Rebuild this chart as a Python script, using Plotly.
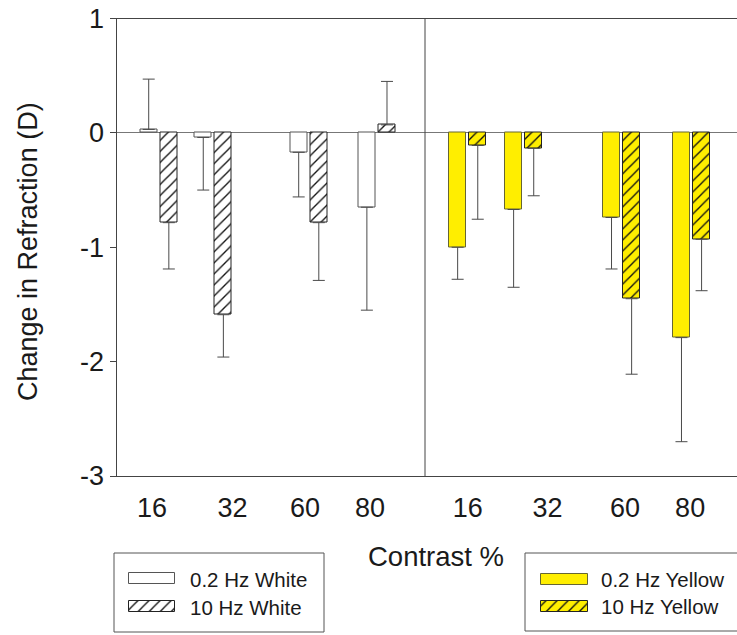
import plotly.graph_objects as go

W, H = 737, 635

# ---------------- data ----------------
contrast = [16, 32, 60, 80]
tick_labels = ["16", "32", "60", "80"]
y_ticks = [-3, -2, -1, 0, 1]
y_tick_labels = ["-3", "-2", "-1", "0", "1"]

white_02_mean = [0.03, -0.04, -0.17, -0.65]
white_02_err = [0.44, 0.46, 0.39, 0.90]
white_10_mean = [-0.785, -1.59, -0.785, 0.07]
white_10_err = [0.405, 0.37, 0.505, 0.38]
yellow_02_mean = [-1.00, -0.67, -0.74, -1.79]
yellow_02_err = [0.28, 0.68, 0.45, 0.91]
yellow_10_mean = [-0.11, -0.135, -1.45, -0.93]
yellow_10_err = [0.645, 0.415, 0.66, 0.45]

series_names = ["0.2 Hz White", "10 Hz White", "0.2 Hz Yellow", "10 Hz Yellow"]

# ---------------- style / layout constants ----------------
FONT = "Liberation Sans, Arial, sans-serif"
TXT = "#1a1a1a"
AX = "#444444"
YELLOW = "#FFEE00"
LEFT_TICK_POS = [14.0, 37.6, 58.9, 78.0]
RIGHT_TICK_POS = [16.0, 38.8, 61.0, 79.6]


def px(p):
    return p / W


def py(p):
    return 1 - p / H


def up_down(means, errs):
    up = [e if m >= 0 else 0 for m, e in zip(means, errs)]
    dn = [e if m < 0 else 0 for m, e in zip(means, errs)]
    return up, dn


def hatch(bg):
    return dict(shape="/", fgcolor="#111111", bgcolor=bg, size=7.8,
                solidity=0.17, fillmode="replace")


def bar(xs, means, errs, name, xaxis, color, line_color, pattern, offset, width):
    up, dn = up_down(means, errs)
    marker = dict(color=color, line=dict(color=line_color, width=1))
    if pattern is not None:
        marker["pattern"] = pattern
    return go.Bar(
        x=xs, y=means, name=name, xaxis=xaxis, yaxis="y",
        offset=offset, width=width, marker=marker, showlegend=False,
        error_y=dict(type="data", symmetric=False, array=up, arrayminus=dn,
                     color="#4a4a4a", thickness=1, width=6),
    )


fig = go.Figure()
fig.add_trace(bar(contrast, white_02_mean, white_02_err, series_names[0], "x",
                  "white", "#555555", None, -5.45, 5.0))
fig.add_trace(bar(contrast, white_10_mean, white_10_err, series_names[1], "x",
                  "white", "#222222", hatch("white"), 0.45, 5.0))
fig.add_trace(bar(contrast, yellow_02_mean, yellow_02_err, series_names[2], "x2",
                  YELLOW, "#666633", None, -5.3, 4.85))
fig.add_trace(bar(contrast, yellow_10_mean, yellow_10_err, series_names[3], "x2",
                  YELLOW, "#222222", hatch(YELLOW), 0.45, 4.85))

# legend swatches drawn on an auxiliary (hidden) pixel axis
legend_items = [
    (series_names[0], "white", "#555555", None, 129, 175, 579, 188),
    (series_names[1], "white", "#222222", hatch("white"), 129, 175, 607, 188),
    (series_names[2], YELLOW, "#666633", None, 541, 588, 579, 599),
    (series_names[3], YELLOW, "#222222", hatch(YELLOW), 541, 588, 606, 599),
]
annotations = []
for name, col, lc, pat, x0, x1, yc, tx in legend_items:
    marker = dict(color=col, line=dict(color=lc, width=1))
    if pat is not None:
        marker["pattern"] = pat
    fig.add_trace(go.Bar(orientation="h", x=[x1 - x0], base=[x0], y=[yc], width=11,
                         xaxis="x3", yaxis="y3", marker=marker, showlegend=False,
                         hoverinfo="skip"))
    annotations.append(dict(text=name, x=px(tx), y=py(yc), xref="paper", yref="paper",
                            xanchor="left", yanchor="middle", showarrow=False,
                            font=dict(family=FONT, size=20.5, color=TXT)))

annotations.append(dict(text="Change in Refraction (D)", textangle=-90,
                        x=px(28), y=py(252), xref="paper", yref="paper",
                        xanchor="center", yanchor="middle", showarrow=False,
                        font=dict(family=FONT, size=27, color=TXT)))
annotations.append(dict(text="Contrast %", x=px(436), y=py(556), xref="paper",
                        yref="paper", xanchor="center", yanchor="middle",
                        showarrow=False, font=dict(family=FONT, size=27.5, color=TXT)))

shapes = [
    dict(type="line", xref="paper", yref="paper", x0=px(425), x1=px(425),
         y0=py(476), y1=py(18.5), line=dict(color=AX, width=1)),
    dict(type="rect", xref="paper", yref="paper", x0=px(114), x1=px(324),
         y0=py(553), y1=py(632), line=dict(color="#555555", width=1)),
    dict(type="rect", xref="paper", yref="paper", x0=px(525), x1=px(760),
         y0=py(553), y1=py(631), line=dict(color="#555555", width=1)),
]

xcommon = dict(showline=True, linecolor=AX, linewidth=1, mirror=True, ticks="",
               showgrid=False, zeroline=False, anchor="y",
               tickfont=dict(family=FONT, size=27, color=TXT),
               ticklabelstandoff=8, ticktext=tick_labels, tickmode="array")

fig.update_layout(
    template="none",
    width=W, height=H,
    margin=dict(l=0, r=0, t=0, b=0),
    paper_bgcolor="white", plot_bgcolor="white",
    showlegend=False,
    bargap=0,
    xaxis=dict(domain=[px(116.5), px(425)], range=[3.6, 94.1],
               tickvals=LEFT_TICK_POS, **xcommon),
    xaxis2=dict(domain=[px(425), 1], range=[3.79, 93.0],
                tickvals=RIGHT_TICK_POS, **xcommon),
    yaxis=dict(domain=[py(476), py(18.5)], range=[-3, 1],
               tickmode="array", tickvals=y_ticks, ticktext=y_tick_labels,
               ticks="outside", ticklen=6,
               tickcolor=AX, showline=True, linecolor=AX, linewidth=1,
               showgrid=False, zeroline=True, zerolinecolor="#777777",
               zerolinewidth=1, anchor="x",
               tickfont=dict(family=FONT, size=27, color=TXT)),
    xaxis3=dict(domain=[0, 1], range=[0, W], visible=False, anchor="y3"),
    yaxis3=dict(domain=[0, py(540)], range=[H, 540], visible=False, anchor="x3"),
    annotations=annotations,
    shapes=shapes,
)

fig.write_html("out.html")
